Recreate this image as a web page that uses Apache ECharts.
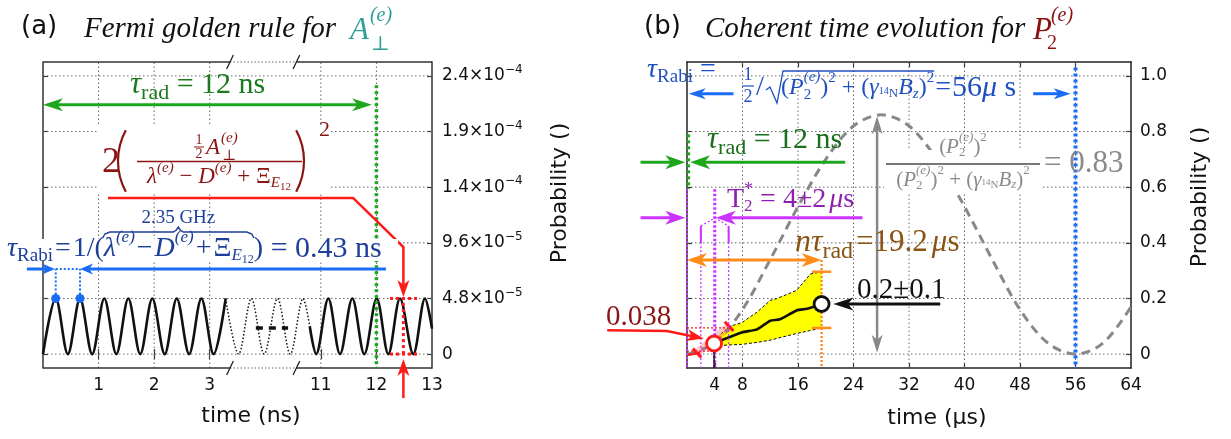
<!DOCTYPE html>
<html><head><meta charset="utf-8">
<script src="https://cdn.jsdelivr.net/npm/echarts@6/dist/echarts.min.js"></script>
<style>html,body{margin:0;padding:0;background:#fff}#c{width:1231px;height:439px}</style>
</head><body><div id="c"></div>
<script>
// ================= DATA =================
// Panel (a): time axis (ns) is broken between 3 and 11 ns
const aTickTimes  = [1, 2, 3, 11, 12, 13];
const aTickLabels = ['1', '2', '3', '11', '12', '13'];
const aYTicks = [0, 4.8e-5, 9.6e-5, 1.44e-4, 1.92e-4, 2.4e-4];
const aYMant  = ['0', '4.8', '9.6', '1.4', '1.9', '2.4'];
const aYExp   = ['', '−5', '−5', '−4', '−4', '−4'];
// Rabi oscillation, extrema (ns, probability)
const oscTimes1 = [0, 0.229, 0.447, 0.666, 0.885, 1.103, 1.32, 1.535, 1.75, 1.967, 2.19, 2.407, 2.63, 2.85, 3.07, 3.287];
const oscProb1  = [0, 4.8e-5, 0, 4.8e-5, 0, 4.8e-5, 0, 4.8e-5, 0, 4.8e-5, 0, 4.8e-5, 0, 4.8e-5, 0, 4.8e-5];
// schematic dotted part drawn inside the axis break (broken-axis units)
const oscBreakPos  = [3.287, 3.52, 3.75, 3.98, 4.22, 4.45, 4.68, 4.80];
const oscBreakProb = [4.8e-5, 0, 4.8e-5, 0, 4.8e-5, 0, 4.8e-5, 2.4e-5];
const oscTimes2 = [10.80, 10.915, 11.134, 11.345, 11.566, 11.782, 12.005, 12.214, 12.424, 12.664, 12.874, 13.0];
const oscProb2  = [2.4e-5, 0, 4.8e-5, 0, 4.8e-5, 0, 4.8e-5, 0, 4.8e-5, 0, 4.8e-5, 2.2e-5];

// Panel (b): time axis in microseconds
const bXTicks  = [4, 8, 16, 24, 32, 40, 48, 56, 64];
const bYTicks  = [0, 0.2, 0.4, 0.6, 0.8, 1.0];
const bYLabels = ['0', '0.2', '0.4', '0.6', '0.8', '1.0'];
// coherent evolution (grey dashed)
const coherentT = [0, 4, 8, 12, 16, 20, 24, 28, 32, 36, 40, 44, 48, 52, 56, 60, 64];
const coherentP = [0, 0.04, 0.16, 0.34, 0.53, 0.70, 0.82, 0.86, 0.82, 0.70, 0.53, 0.34, 0.16, 0.04, 0, 0.04, 0.17];
// simulated average (black) and its spread (yellow)
const simT = [3.9, 5.0, 7.9, 10.1, 12.0, 13.4, 15.8, 17.3, 19.4];
const simP = [0.038, 0.05, 0.078, 0.089, 0.12, 0.125, 0.157, 0.163, 0.18];
const bandT  = [3.9, 5.0, 6.2, 7.9, 10.1, 12.0, 12.9, 15.8, 17.8, 19.4];
const bandHi = [0.045, 0.075, 0.10, 0.113, 0.151, 0.193, 0.199, 0.229, 0.288, 0.296];
const bandLo = [0.03, 0.031, 0.033, 0.035, 0.042, 0.05, 0.056, 0.074, 0.085, 0.094];
const markRed = [3.9, 0.038];
const markBlack = [19.4, 0.18];

// ================= HELPERS =================
const SANS = '"DejaVu Sans", sans-serif';
const SERIF = '"Liberation Serif", "DejaVu Serif", serif';
const axA = t => (t >= 8 ? t - 6 : t);               // broken-axis mapping for panel (a)
function nearest(arr, v) { let b = 0; for (let i = 1; i < arr.length; i++) if (Math.abs(arr[i] - v) < Math.abs(arr[b] - v)) b = i; return b; }

const _ctx = document.createElement('canvas').getContext('2d');
function tw(t, f) { _ctx.font = f; return _ctx.measureText(t).width; }
function fontOf(p) { return (p.i ? 'italic ' : '') + p.s + 'px ' + (p.f || SERIF); }
function typeset(x0, y0, pieces, color, align) {
  let x = 0, keepW = 0; const xs = [], ws = [];
  pieces.forEach(p => {
    x += p.dx || 0; xs.push(x);
    const w = tw(p.t, fontOf(p)); ws.push(w);
    if (p.k) keepW = Math.max(keepW, w); else { x += Math.max(w, keepW); keepW = 0; }
  });
  const off = align === 'center' ? -x / 2 : align === 'right' ? -x : 0;
  const els = pieces.map((p, i) => ({
    type: 'text', z: 100, silent: true, x: x0 + off + xs[i], y: y0 + (p.dy || 0),
    style: { text: p.t, font: fontOf(p), fill: p.c || color, align: 'left', verticalAlign: 'middle', textAlign: 'left', textVerticalAlign: 'middle' }
  }));
  return { els, xs: xs.map(v => v + x0 + off), ws, width: x, left: x0 + off };
}
function gline(pts, color, w, z) { return { type: 'polyline', z: z || 100, silent: true, shape: { points: pts }, style: { stroke: color, lineWidth: w, fill: null } }; }

function headPoly(from, tip, L, W) {
  let ux = tip[0] - from[0], uy = tip[1] - from[1]; const d = Math.hypot(ux, uy) || 1; ux /= d; uy /= d;
  const nx = -uy, ny = ux;
  return { poly: [tip, [tip[0] - L * ux + W * nx, tip[1] - L * uy + W * ny], [tip[0] - 0.72 * L * ux, tip[1] - 0.72 * L * uy], [tip[0] - L * ux - W * nx, tip[1] - L * uy - W * ny]],
           base: [tip[0] - 0.6 * L * ux, tip[1] - 0.6 * L * uy] };
}
function drawShape(s, api) {
  const px = s.pts.map(p => api.coord(p));
  const ch = [];
  if (s.fill) {
    ch.push({ type: 'polygon', shape: { points: px }, style: { fill: s.fill } });
  } else {
    const pts = px.slice(); const L = s.hl || 18, W = s.hw || 6;
    if (s.head === 'end' || s.head === 'both') {
      const h = headPoly(pts[pts.length - 2], px[px.length - 1], L, W); pts[pts.length - 1] = h.base;
      ch.push({ type: 'polygon', z2: 2, shape: { points: h.poly }, style: { fill: s.c } });
    }
    if (s.head === 'both') {
      const h = headPoly(pts[1], px[0], L, W); pts[0] = h.base;
      ch.push({ type: 'polygon', z2: 2, shape: { points: h.poly }, style: { fill: s.c } });
    }
    ch.unshift({ type: 'polyline', shape: { points: pts }, style: { stroke: s.c, lineWidth: s.w || 1, lineDash: s.dash || null, fill: null, lineCap: 'butt' } });
  }
  return { type: 'group', children: ch };
}
function shapeSeries(xi, yi, shapes, z) {
  return { type: 'custom', coordinateSystem: 'cartesian2d', xAxisIndex: xi, yAxisIndex: yi, z: z, silent: true, animation: false, clip: false,
    data: shapes.map((s, i) => [i]), renderItem: (params, api) => drawShape(shapes[params.dataIndex], api) };
}

// ================= PANEL (a) shapes =================
const aMin = -1.2e-5, aMax = 2.52e-4, aPeak = 4.8e-5;
const GRID_C = '#666', GRID_D = [1.5, 2.5];
const gridA = [];
aTickTimes.filter(t => t < 13).forEach(t => gridA.push({ pts: [[axA(t), aMin], [axA(t), aMax]], c: GRID_C, w: 1, dash: GRID_D }));
aYTicks.forEach(v => gridA.push({ pts: [[0, v], [7, v]], c: GRID_C, w: 1, dash: GRID_D }));
const bk1 = axA(3.365), bk2 = axA(10.56), sl = 0.06, sv = 6e-6;
const frameA = [
  { pts: [[0, aMin], [bk1, aMin]], c: '#333', w: 1.5 }, { pts: [[bk2, aMin], [7, aMin]], c: '#333', w: 1.5 },
  { pts: [[0, aMax], [bk1, aMax]], c: '#333', w: 1.5 }, { pts: [[bk2, aMax], [7, aMax]], c: '#333', w: 1.5 },
  { pts: [[bk1, aMin], [bk2, aMin]], c: '#666', w: 1, dash: [1.5, 2] }, { pts: [[bk1, aMax], [bk2, aMax]], c: '#666', w: 1, dash: [1.5, 2] },
  { pts: [[bk1 - sl, aMin - sv], [bk1 + sl, aMin + sv]], c: '#222', w: 1.3 }, { pts: [[bk2 - sl, aMin - sv], [bk2 + sl, aMin + sv]], c: '#222', w: 1.3 },
  { pts: [[bk1 - sl, aMax - sv], [bk1 + sl, aMax + sv]], c: '#222', w: 1.3 }, { pts: [[bk2 - sl, aMax - sv], [bk2 + sl, aMax + sv]], c: '#222', w: 1.3 }
];
const GREEN = '#1fa61f', BLUE = '#1a6cf5', RED = '#ff1a1a';
const yArrowRabi = 7.34e-5;
const annA = [
  // tau_rad = 12 ns
  { pts: [[0, 2.151e-4], [axA(11.92), 2.151e-4]], c: GREEN, w: 3, head: 'both', hl: 20, hw: 6.5 },
  { pts: [[axA(12), 2.32e-4], [axA(12), aMin]], c: GREEN, w: 3.5, dash: [3, 3] },
  // tau_Rabi
  { pts: [[-0.29, yArrowRabi], [0.216, yArrowRabi]], c: BLUE, w: 3, head: 'end', hl: 13, hw: 5.5 },
  { pts: [[axA(12.17), yArrowRabi], [0.666, yArrowRabi]], c: BLUE, w: 3, head: 'end', hl: 13, hw: 5.5 },
  { pts: [[0.229, yArrowRabi], [0.666, yArrowRabi]], c: BLUE, w: 2, dash: [2, 2] },
  { pts: [[0.229, aPeak], [0.229, yArrowRabi]], c: BLUE, w: 2, dash: [2, 2] },
  { pts: [[0.666, aPeak], [0.666, yArrowRabi]], c: BLUE, w: 2, dash: [2, 2] },
  // red Fermi-rule amplitude marker
  { pts: [[1.17, 1.347e-4], [axA(11.58), 1.347e-4], [axA(12.485), 9.24e-5], [axA(12.485), 4.92e-5]], c: RED, w: 2.5, head: 'end', hl: 17, hw: 6 },
  { pts: [[axA(12.485), -3.8e-5], [axA(12.485), -0.43e-5]], c: RED, w: 2.5, head: 'end', hl: 17, hw: 6 },
  { pts: [[axA(12.245), aPeak], [axA(12.749), aPeak]], c: RED, w: 3, dash: [3, 3] },
  { pts: [[axA(12.245), 0], [axA(12.749), 0]], c: RED, w: 3, dash: [3, 3] },
  { pts: [[axA(12.485), 0], [axA(12.485), aPeak]], c: RED, w: 3, dash: [3, 3] },
  // "- - -" inside the break
  { pts: [[3.83, 2.25e-5], [4.41, 2.25e-5]], c: '#111', w: 3.5, dash: [7, 6] }
];

// ================= PANEL (b) shapes =================
const bMin = -0.05, bMax = 1.05;
const gridB = [];
[8, 16, 24, 32, 40, 48, 56].forEach(t => gridB.push({ pts: [[t, bMin], [t, bMax]], c: GRID_C, w: 1, dash: GRID_D }));
bYTicks.forEach(v => gridB.push({ pts: [[0, v], [64, v]], c: GRID_C, w: 1, dash: GRID_D }));
const MAG = '#cc33ff', ORANGE = '#ff8c1a', GREY = '#888888';
const bandShape = [{ pts: bandT.map((t, i) => [t, bandHi[i]]).concat(bandT.map((t, i) => [t, bandLo[i]]).reverse()), fill: '#ffff00' }];
const bandEdges = [
  { pts: bandT.map((t, i) => [t, bandHi[i]]), c: '#111', w: 1, dash: [3, 2] },
  { pts: bandT.map((t, i) => [t, bandLo[i]]), c: '#111', w: 1, dash: [3, 2] }
];
const pinkShapes = [
  { pts: [[1.05, 0.014], [5.66, 0.11], [6.48, 0.089], [1.82, -0.006]], fill: 'rgba(255,70,70,0.32)' },
  { pts: [[0.85, 0.02], [2.05, -0.012]], c: RED, w: 3 },
  { pts: [[5.45, 0.116], [6.7, 0.083]], c: RED, w: 3 },
  { pts: [[0, 0.094], [6.3, 0.094]], c: RED, w: 1.2, dash: [2, 2] },
  { pts: [[0, 0.011], [4, 0.011]], c: RED, w: 1.2, dash: [2, 2] },
  { pts: [[0, -0.003], [1.9, 0.005]], c: RED, w: 2.5 }
];
const annB = [
  // tau_Rabi = 56 us
  { pts: [[6.7, 0.936], [0.25, 0.936]], c: BLUE, w: 3, head: 'end', hl: 17, hw: 5.5 },
  { pts: [[49.9, 0.936], [55.3, 0.936]], c: BLUE, w: 3, head: 'end', hl: 17, hw: 5.5 },
  { pts: [[56, 1.03], [56, bMin]], c: BLUE, w: 4, dash: [3, 3] },
  // tau_rad = 12 ns
  { pts: [[-6.7, 0.69], [-0.25, 0.69]], c: GREEN, w: 3, head: 'end', hl: 20, hw: 7 },
  { pts: [[22.8, 0.69], [0.45, 0.69]], c: GREEN, w: 3, head: 'end', hl: 20, hw: 7 },
  { pts: [[0.2, 0.79], [0.2, 0.593]], c: GREEN, w: 3.5, dash: [3, 3] },
  // T2* = 4 +- 2 us
  { pts: [[-6.7, 0.49], [-0.25, 0.49]], c: MAG, w: 3, head: 'end', hl: 20, hw: 7 },
  { pts: [[25.3, 0.49], [4.15, 0.49]], c: MAG, w: 3, head: 'end', hl: 20, hw: 7 },
  { pts: [[0, 0.593], [0, bMin]], c: MAG, w: 2, dash: [2, 2] },
  { pts: [[4, 0.593], [4, bMin]], c: MAG, w: 3, dash: [2.5, 2] },
  { pts: [[2, 0.46], [2, bMin]], c: MAG, w: 1.3, dash: [2, 2] },
  { pts: [[6, 0.46], [6, bMin]], c: MAG, w: 1.3, dash: [2, 2] },
  { pts: [[2, 0.46], [4, 0.49], [6, 0.46]], c: MAG, w: 1.2, dash: [2, 2] },
  { pts: [[2, 0.46], [2, 0.40]], c: MAG, w: 2 },
  { pts: [[6, 0.46], [6, 0.40]], c: MAG, w: 2 },
  // n tau_rad = 19.2 us
  { pts: [[0, 0.338], [19.4, 0.338]], c: ORANGE, w: 3, head: 'both', hl: 20, hw: 7 },
  { pts: [[19.4, 0.338], [19.4, bMin]], c: ORANGE, w: 2.5, dash: [2, 2] },
  { pts: [[18, 0.296], [20.8, 0.296]], c: ORANGE, w: 2.5 },
  { pts: [[18, 0.094], [20.8, 0.094]], c: ORANGE, w: 2.5 },
  // coherent amplitude
  { pts: [[27.4, 0.005], [27.4, 0.855]], c: GREY, w: 2.5, head: 'both', hl: 18, hw: 5.5 },
  // 0.2 +- 0.1
  { pts: [[36.5, 0.18], [21.1, 0.18]], c: '#111', w: 3, head: 'end', hl: 20, hw: 6.5 },
  { pts: [[3.9, bMin], [3.9, 0.03]], c: '#111', w: 1.5 },
  // 0.038
  { pts: [[-11.5, 0.086], [-2.9, 0.083], [2.4, 0.056]], c: RED, w: 2.5, head: 'end', hl: 17, hw: 6 }
];

// ================= TEXT =================
const G = [];
function add(r) { r.els.forEach(e => G.push(e)); return r; }
function bg(x, y, w, h) { G.push({ type: 'rect', z: 90, silent: true, shape: { x, y, width: w, height: h }, style: { fill: '#fff' } }); }
// titles
add(typeset(21, 27, [{ t: '(a)', s: 26, f: SANS }], '#111'));
add(typeset(84, 29, [{ t: 'Fermi golden rule for', s: 29, i: 1 }], '#111'));
add(typeset(350, 31, [{ t: 'A', s: 31, i: 1 }, { t: '(e)', s: 20, i: 1, dy: -15, k: 1, dx: 1 }, { t: '⊥', s: 20, dy: 14, dx: 1 }], '#2f9e96'));
add(typeset(644, 27, [{ t: '(b)', s: 26, f: SANS }], '#111'));
add(typeset(705, 29, [{ t: 'Coherent time evolution for', s: 29, i: 1 }], '#111'));
add(typeset(1033, 31, [{ t: 'P', s: 31, i: 1 }, { t: '(e)', s: 20, i: 1, dy: -15, k: 1, dx: -1 }, { t: '2', s: 20, dy: 13, dx: -4 }], '#8b1010'));
// axis names
add(typeset(251, 416, [{ t: 'time (ns)', s: 22, f: SANS }], '#111', 'center'));
add(typeset(937, 418, [{ t: 'time (μs)', s: 22, f: SANS }], '#111', 'center'));
[[560, 193], [1200, 197]].forEach(([x, y]) => G.push({ type: 'text', z: 100, silent: true, x, y, rotation: Math.PI / 2,
  style: { text: 'Probability ()', font: '22px ' + SANS, fill: '#111', align: 'center', verticalAlign: 'middle', textAlign: 'center', textVerticalAlign: 'middle' } }));

// (a) tau_rad
const DG = '#1b7a1b';
add(typeset(130, 85, [{ t: 'τ', s: 31, i: 1 }, { t: 'rad', s: 22, dy: 8 }, { t: ' = 12 ns', s: 30 }], DG));
// (a) red Fermi formula
const DR = '#8b1515';
bg(98, 124, 232, 70);
add(typeset(102, 163, [{ t: '2', s: 36 }], DR));
G.push({ type: 'arc', z: 100, silent: true, shape: { cx: 182, cy: 161, r: 64, startAngle: Math.PI - 0.5, endAngle: Math.PI + 0.5 }, style: { stroke: DR, lineWidth: 2.2, fill: null } });
G.push({ type: 'arc', z: 100, silent: true, shape: { cx: 240, cy: 161, r: 64, startAngle: -0.5, endAngle: 0.5 }, style: { stroke: DR, lineWidth: 2.2, fill: null } });
add(typeset(199, 140, [{ t: '1', s: 14 }], DR, 'center'));
add(typeset(199, 154, [{ t: '2', s: 14 }], DR, 'center'));
G.push(gline([[194, 147], [204, 147]], DR, 1));
add(typeset(206, 148, [{ t: 'A', s: 23, i: 1 }, { t: '(e)', s: 15, i: 1, dy: -10, k: 1, dx: 1 }, { t: '⊥', s: 15, dy: 8, dx: 1 }], DR));
G.push(gline([[137, 161.5], [302, 161.5]], DR, 1.4));
add(typeset(219, 177, [{ t: 'λ', s: 23, i: 1 }, { t: '(e)', s: 15, i: 1, dy: -9 }, { t: ' − ', s: 23 }, { t: 'D', s: 23, i: 1 }, { t: '(e)', s: 15, i: 1, dy: -9 },
  { t: ' + ', s: 23 }, { t: 'Ξ', s: 23 }, { t: 'E', s: 15, i: 1, dy: 6 }, { t: '12', s: 11, dy: 10 }], DR, 'center'));
add(typeset(319, 130, [{ t: '2', s: 22 }], DR));
// (a) blue tau_Rabi
const DB = '#1d3f9a';
bg(5, 239, 393, 22);
const rb = add(typeset(7, 249, [{ t: 'τ', s: 28, i: 1 }, { t: 'Rabi', s: 19, dy: 7 }, { t: '=', s: 28, dx: 2 }, { t: '1/(', s: 28, dx: 2 },
  { t: 'λ', s: 28, i: 1 }, { t: '(e)', s: 17, i: 1, dy: -11 }, { t: '−', s: 28, dx: 2 }, { t: 'D', s: 28, i: 1, dx: 2 }, { t: '(e)', s: 17, i: 1, dy: -11 },
  { t: '+', s: 28, dx: 2 }, { t: 'Ξ', s: 28, dx: 2 }, { t: 'E', s: 17, i: 1, dy: 7 }, { t: '12', s: 12, dy: 11 }, { t: ')', s: 28 }, { t: ' = 0.43 ns', s: 30 }], DB));
(function () {
  const xa = rb.xs[4] - 1, xb = rb.xs[13], xm = (xa + xb) / 2, y = 232;
  G.push(gline([[xa, y + 6], [xa + 2, y + 2], [xa + 7, y], [xm - 5, y], [xm - 2, y - 2], [xm, y - 5], [xm + 2, y - 2], [xm + 5, y], [xb - 7, y], [xb - 2, y + 2], [xb, y + 6]], DB, 1.4));
  add(typeset(xm, 218, [{ t: '2.35 GHz', s: 19 }], DB, 'center'));
})();

// (b) blue tau_Rabi
const BB = '#1f50c2';
add(typeset(647, 70, [{ t: 'τ', s: 28, i: 1 }, { t: 'Rabi', s: 19, dy: 7 }, { t: ' =', s: 28 }], BB));
add(typeset(748, 75, [{ t: '1', s: 18 }], BB, 'center'));
add(typeset(748, 97, [{ t: '2', s: 18 }], BB, 'center'));
G.push(gline([[742, 86], [754, 86]], BB, 1.2));
add(typeset(756, 88, [{ t: '/', s: 28 }], BB));
const rq = add(typeset(781, 88, [{ t: '(', s: 24 }, { t: 'P', s: 24, i: 1 }, { t: '(e)', s: 15, i: 1, dy: -11, k: 1 }, { t: '2', s: 15, dy: 7 }, { t: ')', s: 24 }, { t: '2', s: 15, dy: -10 },
  { t: ' + (', s: 24 }, { t: 'γ', s: 24, i: 1 }, { t: '14', s: 10, dy: 3 }, { t: 'N', s: 13, dy: 6 }, { t: 'B', s: 24, i: 1 }, { t: 'z', s: 15, i: 1, dy: 6 }, { t: ')', s: 24 }, { t: '2', s: 15, dy: -10 },
  { t: '=', s: 28, dx: 1 }, { t: '56', s: 30, dx: 1 }, { t: 'μ', s: 30, i: 1 }, { t: ' s', s: 30 }], BB));
G.push(gline([[766, 90], [770, 87], [777, 103], [783, 71], [rq.xs[14] - 1, 71]], BB, 1.3));
// (b) tau_rad, T2*, n tau_rad
add(typeset(707, 140, [{ t: 'τ', s: 31, i: 1 }, { t: 'rad', s: 22, dy: 8 }, { t: ' = 12 ns', s: 30 }], '#1b6e1b'));
add(typeset(727, 200, [{ t: 'T', s: 28 }, { t: '*', s: 18, dy: -10, k: 1 }, { t: '2', s: 17, dy: 7 }, { t: ' = 4±2', s: 28 }, { t: 'μ', s: 28, i: 1, dx: 3 }, { t: 's', s: 28 }], '#8e1fb0'));
add(typeset(795, 243, [{ t: 'n', s: 32, i: 1 }, { t: 'τ', s: 32, i: 1 }, { t: 'rad', s: 24, dy: 9 }, { t: '=19.2', s: 31, dx: 3 }, { t: 'μ', s: 31, i: 1, dx: 4 }, { t: 's', s: 31 }], '#8a5514'));
add(typeset(857, 290, [{ t: '0.2±0.1', s: 29 }], '#111'));
add(typeset(606, 317, [{ t: '0.038', s: 29 }], DR));
// (b) grey fraction
const GT = '#8a8a8a';
bg(884, 150, 158, 42);
add(typeset(963, 147, [{ t: '(', s: 21 }, { t: 'P', s: 21, i: 1 }, { t: '(e)', s: 13, i: 1, dy: -9, k: 1 }, { t: '2', s: 13, dy: 6 }, { t: ')', s: 21 }, { t: '2', s: 13, dy: -9 }], GT, 'center'));
G.push(gline([[886, 164], [1040, 164]], '#777', 2));
add(typeset(963, 180, [{ t: '(', s: 21 }, { t: 'P', s: 21, i: 1 }, { t: '(e)', s: 13, i: 1, dy: -9, k: 1 }, { t: '2', s: 13, dy: 6 }, { t: ')', s: 21 }, { t: '2', s: 13, dy: -9 },
  { t: ' + (', s: 21 }, { t: 'γ', s: 21, i: 1 }, { t: '14', s: 9, dy: 3 }, { t: 'N', s: 11, dy: 5 }, { t: 'B', s: 21, i: 1 }, { t: 'z', s: 13, i: 1, dy: 5 }, { t: ')', s: 21 }, { t: '2', s: 13, dy: -9 }], GT, 'center'));
add(typeset(1044, 164, [{ t: '= 0.83', s: 31 }], GT));

// ================= OPTION =================
const tickStyle = { inside: true, length: 5, lineStyle: { color: '#333', width: 1.2 } };
const lblStyle = { fontFamily: 'DejaVu Sans', fontSize: 17, color: '#111' };
const option = {
  animation: false,
  backgroundColor: '#fff',
  grid: [
    { left: 43, top: 62, width: 389, height: 306 },
    { left: 687, top: 62, width: 444, height: 306 }
  ],
  xAxis: [
    { gridIndex: 0, type: 'value', min: 0, max: 7, position: 'bottom', axisLine: { show: false },
      axisTick: Object.assign({ customValues: aTickTimes.filter(t => t < 13).map(axA) }, tickStyle),
      axisLabel: Object.assign({ customValues: aTickTimes.map(axA), margin: 9, formatter: v => aTickLabels[nearest(aTickTimes.map(axA), v)] }, lblStyle),
      splitLine: { show: false } },
    { gridIndex: 0, type: 'value', min: 0, max: 7, position: 'top', axisLine: { show: false },
      axisTick: Object.assign({ customValues: aTickTimes.filter(t => t < 13).map(axA) }, tickStyle), axisLabel: { show: false }, splitLine: { show: false } },
    { gridIndex: 1, type: 'value', min: 0, max: 64, position: 'bottom', axisLine: { show: true, onZero: false, lineStyle: { color: '#222', width: 1.5 } },
      axisTick: Object.assign({ customValues: [4, 8, 16, 24, 32, 40, 48, 56] }, tickStyle),
      axisLabel: Object.assign({ customValues: bXTicks, margin: 9, formatter: v => String(bXTicks[nearest(bXTicks, v)]) }, lblStyle),
      splitLine: { show: false } },
    { gridIndex: 1, type: 'value', min: 0, max: 64, position: 'top', axisLine: { show: true, onZero: false, lineStyle: { color: '#222', width: 1.5 } },
      axisTick: Object.assign({ customValues: [8, 16, 24, 32, 40, 48, 56] }, tickStyle), axisLabel: { show: false }, splitLine: { show: false } }
  ],
  yAxis: [
    { gridIndex: 0, type: 'value', min: aMin, max: aMax, position: 'right', axisLine: { show: true, onZero: false, lineStyle: { color: '#555', width: 1.8 } },
      axisTick: Object.assign({ customValues: aYTicks }, tickStyle),
      axisLabel: { customValues: aYTicks, margin: 10, color: '#111',
        formatter: v => { const i = nearest(aYTicks, v); return aYExp[i] ? '{m|' + aYMant[i] + '×10}{e|' + aYExp[i] + '}' : '{m|' + aYMant[i] + '}'; },
        rich: { m: { fontFamily: 'DejaVu Sans', fontSize: 17, color: '#111', lineHeight: 24 }, e: { fontFamily: 'DejaVu Sans', fontSize: 12, color: '#111', verticalAlign: 'top', lineHeight: 12 } } },
      splitLine: { show: false } },
    { gridIndex: 0, type: 'value', min: aMin, max: aMax, position: 'left', axisLine: { show: true, onZero: false, lineStyle: { color: '#333', width: 1.5 } },
      axisTick: Object.assign({ customValues: aYTicks }, tickStyle), axisLabel: { show: false }, splitLine: { show: false } },
    { gridIndex: 1, type: 'value', min: bMin, max: bMax, position: 'right', axisLine: { show: true, onZero: false, lineStyle: { color: '#222', width: 1.5 } },
      axisTick: Object.assign({ customValues: bYTicks }, tickStyle),
      axisLabel: Object.assign({ customValues: bYTicks, margin: 9, formatter: v => bYLabels[nearest(bYTicks, v)] }, lblStyle),
      splitLine: { show: false } },
    { gridIndex: 1, type: 'value', min: bMin, max: bMax, position: 'left', axisLine: { show: true, onZero: false, lineStyle: { color: '#222', width: 1.5 } },
      axisTick: Object.assign({ customValues: bYTicks }, tickStyle), axisLabel: { show: false }, splitLine: { show: false } }
  ],
  series: [
    shapeSeries(0, 0, gridA, 1),
    shapeSeries(2, 2, gridB, 1),
    shapeSeries(0, 0, frameA, 3),
    { type: 'line', xAxisIndex: 0, yAxisIndex: 0, data: oscTimes1.map((t, i) => [axA(t), oscProb1[i]]), smooth: 0.33, symbol: 'none', clip: false,
      lineStyle: { color: '#111', width: 2.6 }, z: 4, silent: true },
    { type: 'line', xAxisIndex: 0, yAxisIndex: 0, data: oscBreakPos.map((x, i) => [x, oscBreakProb[i]]), smooth: 0.33, symbol: 'none', clip: false,
      lineStyle: { color: '#111', width: 1.5, type: [1.5, 2] }, z: 4, silent: true },
    { type: 'line', xAxisIndex: 0, yAxisIndex: 0, data: oscTimes2.map((t, i) => [axA(t), oscProb2[i]]), smooth: 0.33, symbol: 'none', clip: false,
      lineStyle: { color: '#111', width: 2.6 }, z: 4, silent: true },
    shapeSeries(0, 0, annA, 6),
    { type: 'scatter', xAxisIndex: 0, yAxisIndex: 0, data: [[0.229, aPeak], [0.666, aPeak]], symbolSize: 9, itemStyle: { color: BLUE, opacity: 1 }, z: 8, silent: true },
    // panel (b)
    shapeSeries(2, 2, bandShape, 2),
    shapeSeries(2, 2, bandEdges, 3),
    { type: 'line', xAxisIndex: 2, yAxisIndex: 2, data: coherentT.map((t, i) => [t, coherentP[i]]), smooth: 0.33, symbol: 'none',
      lineStyle: { color: GREY, width: 3, type: [9, 6] }, z: 4, silent: true },
    shapeSeries(2, 2, pinkShapes, 5),
    { type: 'line', xAxisIndex: 2, yAxisIndex: 2, data: simT.map((t, i) => [t, simP[i]]), smooth: 0.2, symbol: 'none',
      lineStyle: { color: '#111', width: 2.6 }, z: 6, silent: true },
    shapeSeries(2, 2, annB, 7),
    { type: 'scatter', xAxisIndex: 2, yAxisIndex: 2, data: [markRed], symbolSize: 15, itemStyle: { color: '#fff', borderColor: RED, borderWidth: 2.8, opacity: 1 }, z: 9, silent: true },
    { type: 'scatter', xAxisIndex: 2, yAxisIndex: 2, data: [markBlack], symbolSize: 15, itemStyle: { color: '#fff', borderColor: '#111', borderWidth: 2.8, opacity: 1 }, z: 9, silent: true }
  ],
  graphic: { elements: G }
};
const chart = echarts.init(document.getElementById('c'), null, { renderer: 'canvas', width: 1231, height: 439 });
chart.setOption(option);
</script>
</body></html>
